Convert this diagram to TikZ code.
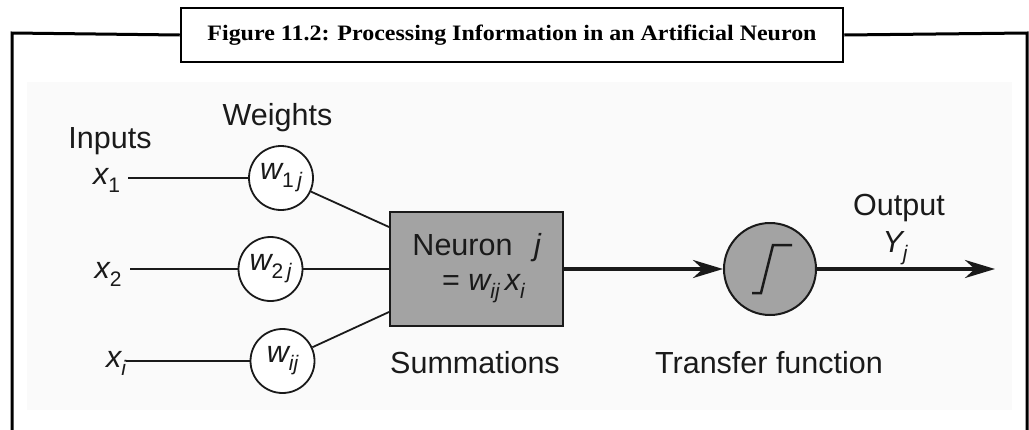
\documentclass[tikz,border=0pt]{standalone}
\usepackage{fontspec}
\setmainfont{Liberation Sans}
\newfontfamily\titlefont{Liberation Serif}
\usetikzlibrary{arrows.meta}
\definecolor{panel}{HTML}{FAFAFA}
\definecolor{boxgray}{HTML}{A3A3A3}
\definecolor{ink}{HTML}{1A1A1A}
\newcommand\lbl{\fontsize{30.5}{34}\selectfont}
\newcommand\sbs[1]{\raisebox{-8pt}{\fontsize{21}{21}\selectfont #1}}
\begin{document}
\begin{tikzpicture}[x=1pt,y=-1pt,
  txt/.style={inner sep=0pt, anchor=base, font=\lbl, text=ink},
  wnode/.style={circle, draw=ink, line width=1.8pt, fill=white, minimum size=64pt, inner sep=0pt, font=\lbl, text=ink},
  wire/.style={draw=ink, line width=1.8pt},
  bigarrow/.style={draw=ink, line width=3.5pt, -{Stealth[length=30pt,width=18pt]}},
  frameline/.style={draw=black, line width=3pt, line join=miter},
]
\useasboundingbox (0,0) rectangle (1029,429);
\fill[panel] (27,82) rectangle (1012,410);
% title and frame
\node[draw=black, line width=2.5pt, minimum width=662pt, minimum height=54pt, inner sep=0pt, fill=white] (tbox) at (512,35)
  {\resizebox{609pt}{15.5pt}{\titlefont\bfseries Figure 11.2: Processing Information in an Artificial Neuron}};
\draw[frameline] (tbox.west) -- (12,33) -- (12,440);
\draw[frameline] (tbox.east) -- (1027,33) -- (1027,440);
% headings
\node[txt] (inputs) at (110,148) {Inputs};
\node[txt] (weights) at (277.5,125) {Weights};
% input labels
\node[txt] (x1) at (106.5,184) {{\itshape x}\sbs{1}};
\node[txt] (x2) at (108,278) {{\itshape x}\sbs{2}};
\node[txt] (xi) at (116,367) {{\itshape x}\sbs{\itshape i}};
\coordinate (in1) at (128,178);
\coordinate (in2) at (130,269);
\coordinate (ini) at (126,361);
% weight circles
\node[wnode] (w1) at (281,178) {{\itshape w}\sbs{1\,{\itshape j}}};
\node[wnode] (w2) at (270.5,269) {{\itshape w}\sbs{2\,{\itshape j}}};
\node[wnode] (wi) at (282.5,361) {{\itshape w}\sbs{\itshape ij}};
% neuron box
\node[draw=ink, line width=2pt, fill=boxgray, minimum width=173pt, minimum height=114pt, inner sep=0pt] (box) at (476.5,269) {};
\node[txt] (neur) at (462.5,255) {Neuron};
\node[txt] (nj) at (537.5,255) {\itshape j};
\node[txt] (eq) at (483.5,290) {= {\itshape w}\sbs{\itshape ij}\,{\itshape x}\sbs{\itshape i}};
\node[txt] (summ) at (475,373) {Summations};
% transfer function
\node[circle, draw=ink, line width=2pt, fill=boxgray, minimum size=92pt, inner sep=0pt] (tf) at (770,269) {};
\draw[ink, line width=2.5pt, line join=miter] ([shift={(-18,24)}]tf.center) -- ++(9,0) -- ++(12,-48) -- ++(19,0);
\node[txt] (tflbl) at (769,373) {Transfer function};
\node[txt] (outlbl) at (899,215) {Output};
\node[txt] (yj) at (895,252) {{\itshape Y}\sbs{\itshape j}};
\coordinate (out) at (995,269);
% connectors
\draw[wire] (in1) -- (w1);
\draw[wire] (in2) -- (w2);
\draw[wire] (ini) -- (wi);
\draw[wire] (w1) -- ([yshift=42pt]box.west);
\draw[wire] (w2) -- (box.west);
\draw[wire] (wi) -- ([yshift=-43pt]box.west);
\draw[bigarrow] (box.east) -- (tf.west);
\draw[bigarrow] (tf.east) -- (out);
\end{tikzpicture}
\end{document}
